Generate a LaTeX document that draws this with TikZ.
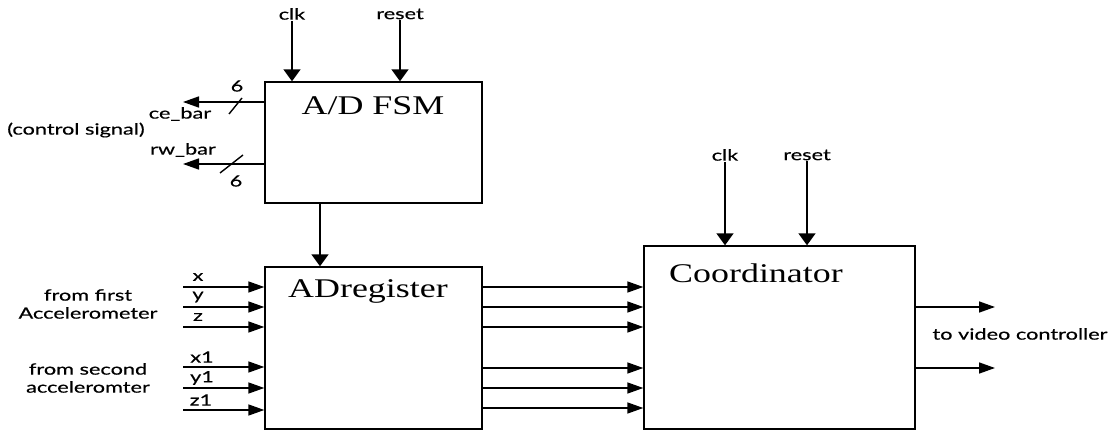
\documentclass[tikz,border=0pt]{standalone}
\usepackage{fontspec}
\setmainfont{Liberation Serif}
\newfontfamily\titlefont[FakeStretch=1.33]{Liberation Serif}
\newfontfamily\labelfont[FakeStretch=1.4, FakeBold=0.4]{Lato}
\usepackage{tikz}
\usetikzlibrary{positioning, calc, arrows.meta}

\tikzset{
    block/.style={draw, line width=1.4pt, fill=white, inner sep=0pt},
    blockname/.style={font=\titlefont\fontsize{27}{31}\selectfont, inner sep=1pt},
    lbl/.style={font=\labelfont\fontsize{15.5}{18}\selectfont, inner sep=1pt},
    hsig/.style={line width=1.6pt, -{Triangle[length=16pt, width=11pt]}},
    vsig/.style={line width=1.6pt, -{Triangle[length=12pt, width=17pt]}},
    slash/.style={line width=1.4pt}
}

\begin{document}
\begin{tikzpicture}[x=1pt, y=-1pt]
        \useasboundingbox (0,0) rectangle (1111,430);

        % the three blocks
        \node[block, minimum width=217pt, minimum height=121pt] (fsm)   at (373.5,142.5) {};
        \node[block, minimum width=217pt, minimum height=162pt] (adreg) at (373.5,348) {};
        \node[block, minimum width=271pt, minimum height=183pt] (coord) at (779.5,337.5) {};

        \node[blockname] (fsmname)   at (373,106) {A/D FSM};
        \node[blockname] (adregname) at (368,291) {ADregister};
        \node[blockname] (coordname) at (756,273) {Coordinator};

        % clk and reset of the FSM
        \node[lbl] (fsmclk)   at (292,14) {clk};
        \node[lbl] (fsmreset) at (400,14) {reset};
        \draw[vsig] (fsmclk.south) -- (fsmclk.south |- fsm.north);
        \draw[vsig] (fsmreset.south) -- (fsmreset.south |- fsm.north);

        % control signals
        \coordinate (cebar) at (183,102);
        \coordinate (rwbar) at (183,164);
        \draw[hsig] (fsm.west |- cebar) -- (cebar);
        \draw[hsig] (fsm.west |- rwbar) -- (rwbar);
        \draw[slash] (229,114) -- (242,98);
        \draw[slash] (220,173) -- (243,155);
        \node[lbl] (cewidth) at (237,86)  {6};
        \node[lbl] (rwwidth) at (236,181) {6};
        \node[lbl] (cename)  at (180,114) {ce\_bar};
        \node[lbl] (rwname)  at (183,150) {rw\_bar};
        \node[lbl] (ctrl)    at (76,130)  {(control signal)};

        % FSM to register
        \coordinate (fsmout) at (320,0);
        \draw[vsig] (fsm.south -| fsmout) -- (adreg.north -| fsmout);

        % accelerometer inputs
        \foreach \nm/\txt/\yy/\xx in {x/x/287/198, y/y/307/198, z/z/327/198,
                                      xa/x1/367/202, ya/y1/388/202, za/z1/410/201} {
            \coordinate (in-\nm) at (183,\yy);
            \draw[hsig] (in-\nm) -- (in-\nm -| adreg.west);
            \node[lbl] (lbl-\nm) at (\xx,\yy-10) {\txt};
        }
        \node[lbl, align=center] (first)  at (88,304) {from first\\Accelerometer};
        \node[lbl, align=center] (second) at (88,378) {from second\\acceleromter};

        % register to coordinator
        \foreach \yy [count=\i] in {287,307,327,368,388,408} {
            \coordinate (bus\i) at (0,\yy);
            \draw[hsig] (adreg.east |- bus\i) -- (coord.west |- bus\i);
        }

        % clk and reset of the coordinator
        \node[lbl] (coordclk)   at (725,155) {clk};
        \node[lbl] (coordreset) at (807,155) {reset};
        \draw[vsig] (coordclk.south) -- (coordclk.south |- coord.north);
        \draw[vsig] (coordreset.south) -- (coordreset.south |- coord.north);

        % outputs
        \coordinate (out1) at (995,307);
        \coordinate (out2) at (995,368);
        \draw[hsig] (coord.east |- out1) -- (out1);
        \draw[hsig] (coord.east |- out2) -- (out2);
        \node[lbl] (video) at (1020,334) {to video controller};
    \end{tikzpicture}
\end{document}
